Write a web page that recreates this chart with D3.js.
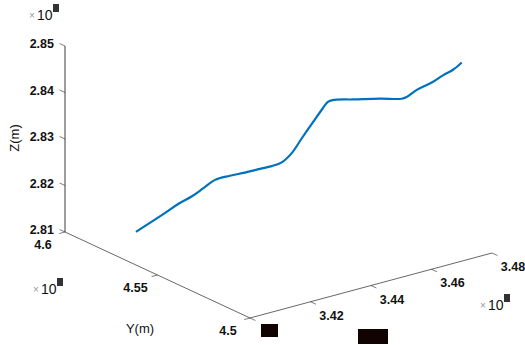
<!DOCTYPE html>
<html><head><meta charset="utf-8">
<script src="https://cdn.jsdelivr.net/npm/d3@7"></script>
<style>body{margin:0;background:#fff}svg{display:block}</style>
</head><body><div id="chart"></div>
<script>
// trajectory (axis units, x10^k hidden)
const xs=[3.4051,3.4117,3.4154,3.4186,3.4213,3.4239,3.4270,3.4301,3.4333,3.4359,3.4380,3.4401,3.4422,3.4448,3.4463,3.4479,3.4495,3.4537,3.4601,3.4654,3.4665,3.4686,3.4717,3.4737,3.4752,3.4761];
const ys=[4.570,4.566,4.564,4.562,4.560,4.558,4.555,4.552,4.549,4.547,4.545,4.543,4.541,4.539,4.537,4.536,4.535,4.532,4.528,4.525,4.524,4.522,4.519,4.516,4.513,4.510];
const zs=[2.8147,2.8181,2.8200,2.8214,2.8231,2.8248,2.8257,2.8264,2.8272,2.8277,2.8285,2.8305,2.8337,2.8372,2.8398,2.8415,2.8418,2.8417,2.8415,2.8411,2.8415,2.8430,2.8446,2.8464,2.8479,2.8498];
const xTicks=[3.40,3.42,3.44,3.46,3.48];
const yTicks=[4.5,4.55,4.6];
const zTicks=[2.81,2.82,2.83,2.84,2.85];
const xLab=['','3.42','3.44','3.46','3.48'];
const yLab=['4.5','4.55','4.6'];
const zLab=['2.81','2.82','2.83','2.84','2.85'];

(function(){
  const W=525,H=345;
  const svg=d3.select('#chart').append('svg').attr('width',W).attr('height',H);
  // screen basis of the box (view az/el from MATLAB)
  const O=[250,318], EX=[242,-65], EY=[-185,-86], EZ=[0,-186];
  const xS=d3.scaleLinear().domain([3.40,3.48]).range([0,1]);
  const yS=d3.scaleLinear().domain([4.5,4.6]).range([0,1]);
  const zS=d3.scaleLinear().domain([2.81,2.85]).range([0,1]);
  const P=(x,y,z)=>{const a=xS(x),b=yS(y),c=zS(z);
    return [O[0]+a*EX[0]+b*EY[0]+c*EZ[0], O[1]+a*EX[1]+b*EY[1]+c*EZ[1]];};
  const ax='#262626', f='"Liberation Sans",Arial,sans-serif', tf=`bold 12.5px ${f}`;
  const seg=(p,q,col,w)=>svg.append('line').attr('x1',p[0]).attr('y1',p[1]).attr('x2',q[0]).attr('y2',q[1])
    .attr('stroke',col).attr('stroke-width',w);
  const unit=v=>{const l=Math.hypot(v[0],v[1]);return [v[0]/l,v[1]/l];};
  const tl=6;

  // axes lines
  seg(P(3.40,4.5,2.81),P(3.48,4.5,2.81),ax,0.7);
  seg(P(3.40,4.5,2.81),P(3.40,4.6,2.81),ax,0.7);
  seg(P(3.40,4.6,2.81),P(3.40,4.6,2.85),ax,0.9);

  // x ticks (point toward -Y)
  const dY=unit([-EY[0],-EY[1]]);
  xTicks.forEach((t,i)=>{const p=P(t,4.5,2.81);
    seg(p,[p[0]+dY[0]*tl,p[1]+dY[1]*tl],ax,0.6);
    svg.append('text').attr('x',p[0]+21).attr('y',p[1]+14).attr('text-anchor','middle')
      .attr('dominant-baseline','central').style('font',tf).attr('fill','#111').text(xLab[i]);
  });
  // y ticks (point toward -X)
  const dX=unit([-EX[0],-EX[1]]);
  yTicks.forEach((t,i)=>{const p=P(3.40,t,2.81);
    seg(p,[p[0]+dX[0]*tl,p[1]+dX[1]*tl],ax,0.6);
    svg.append('text').attr('x',p[0]-22).attr('y',p[1]+13).attr('text-anchor','middle')
      .attr('dominant-baseline','central').style('font',tf).attr('fill','#111').text(yLab[i]);
  });
  // z ticks (point toward +Y)
  const dZ=unit(EY);
  zTicks.forEach((t,i)=>{const p=P(3.40,4.6,t);
    seg(p,[p[0]+dZ[0]*tl,p[1]+dZ[1]*tl],ax,0.6);
    svg.append('text').attr('x',p[0]-11).attr('y',p[1]-2).attr('text-anchor','end')
      .attr('dominant-baseline','central').style('font',tf).attr('fill','#111').text(zLab[i]);
  });

  // exponent markers (exponent hidden)
  [[29,15],[33,289],[480,305]].forEach(([x,y])=>{
    const g=svg.append('g').attr('transform',`translate(${x},${y})`);
    g.append('text').attr('x',0).attr('y',0).attr('dominant-baseline','central')
      .style('font',`10px ${f}`).attr('fill','#999').text('\u00d7');
    g.append('text').attr('x',8).attr('y',0).attr('dominant-baseline','central')
      .style('font',`14px ${f}`).attr('fill','#111').text('10');
    g.append('rect').attr('x',24).attr('y',-11).attr('width',6).attr('height',8).attr('fill','#333');
  });

  // axis labels
  svg.append('text').attr('transform','translate(14,138) rotate(-90)').attr('text-anchor','middle')
    .attr('dominant-baseline','central').style('font',`13px ${f}`).attr('fill','#111').text('Z(m)');
  svg.append('text').attr('x',140).attr('y',328).attr('text-anchor','middle')
    .attr('dominant-baseline','central').style('font',`13px ${f}`).attr('fill','#111').text('Y(m)');

  // redacted blocks
  svg.append('rect').attr('x',261).attr('y',324).attr('width',17).attr('height',13).attr('fill','#120303');
  svg.append('rect').attr('x',358).attr('y',329).attr('width',30).attr('height',15).attr('fill','#120303');

  // trajectory
  const pts=xs.map((x,i)=>P(x,ys[i],zs[i]));
  svg.append('path').datum(pts).attr('d',d3.line().curve(d3.curveCatmullRom))
    .attr('fill','none').attr('stroke','#0072BD').attr('stroke-width',2.2).attr('stroke-linejoin','round');
})();
</script>
</body></html>
